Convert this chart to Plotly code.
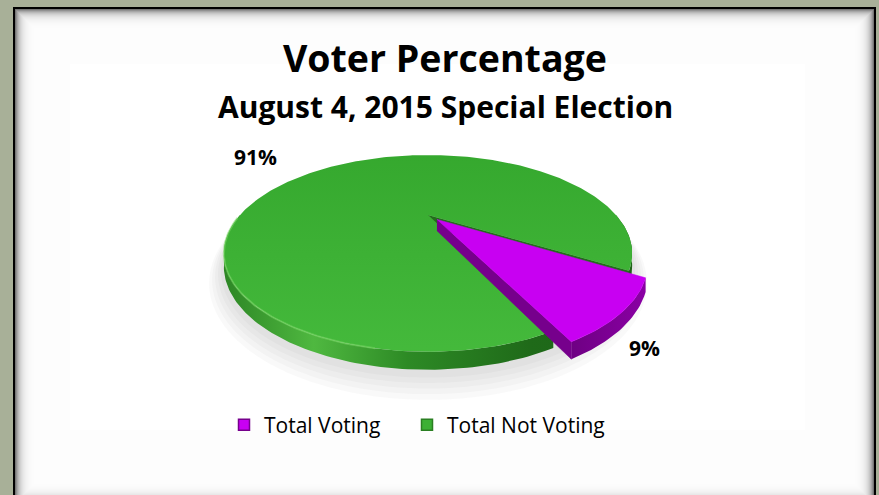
import numpy as np
import plotly.graph_objects as go

# ---- chart data -------------------------------------------------------
categories = ["Total Voting", "Total Not Voting"]
votes_pct = [9, 91]
top_colors = ["#c800f2", "#3cb034"]
side_colors = ["#76008c", "#2a7f22"]
title_text = "Voter Percentage"
subtitle_text = "August 4, 2015 Special Election"

W, H = 879, 495
FONT = "Open Sans"

# ---- 3-D pie geometry (pixel space of the page) -----------------------
CX, CY = 428.0, 215.0      # projected centre of the disc
SX, SY = 188.0, 83.4       # radii before perspective
PERSP = 0.39               # perspective strength (front looks larger)
DEPTH = 11.0               # disc thickness
START_DEG = 32.0           # first slice start, clockwise from 3 o'clock
EXPLODE = [0.07, 0.0]


def project(X, Y, drop=0.0):
    d = 1.0 - PERSP * np.asarray(Y)
    return CX + SX * np.asarray(X) / d, CY + (SY * np.asarray(Y) + drop) / d


def arc_pts(a0, a1, off=(0.0, 0.0), drop=0.0, r=1.0):
    n = max(int(abs(a1 - a0) / 1.0), 6)
    t = np.radians(np.linspace(a0, a1, n))
    return project(r * np.cos(t) + off[0], r * np.sin(t) + off[1], drop)


total = float(sum(votes_pct))
spans = [v / total * 360.0 for v in votes_pct]
starts = [START_DEG + sum(spans[:i]) for i in range(len(spans))]

fig = go.Figure()

# soft drop shadow under the disc
for k in range(5):
    sx, sy = arc_pts(0, 360, r=1.0 + 0.012 * (k + 1), drop=DEPTH + 3 + k * 1.5)
    fig.add_trace(go.Scatter(x=sx, y=sy, fill="toself", mode="none",
                             fillcolor="rgba(90,90,90,0.04)",
                             showlegend=False, hoverinfo="skip"))


def add_poly(x, y, color=None, grad=None):
    kw = dict(x=np.asarray(x), y=np.asarray(y), fill="toself", mode="lines",
              line=dict(width=0.5, color=color or "rgba(0,0,0,0)"),
              showlegend=False, hoverinfo="skip")
    if grad is not None:
        kw["fillgradient"] = grad
        kw["line"] = dict(width=0)
    else:
        kw["fillcolor"] = color
    fig.add_trace(go.Scatter(**kw))


def wall(a0, a1, off, grad):
    # only the front half (0..180 deg) of the rim is visible
    pieces = []
    for lo, hi in ((0, 180), (360, 540)):
        s, e = max(a0, lo), min(a1, hi)
        if e > s:
            pieces.append((s, e))
    for s, e in pieces:
        tx, ty = arc_pts(s, e, off)
        bx, by = arc_pts(s, e, off, drop=DEPTH)
        add_poly(np.r_[tx, bx[::-1]], np.r_[ty, by[::-1]], grad=grad)


def radial_face(angle, off, color):
    t = np.radians(angle)
    X = np.array([0.0, np.cos(t), np.cos(t), 0.0]) + off[0]
    Y = np.array([0.0, np.sin(t), np.sin(t), 0.0]) + off[1]
    drops = np.array([0.0, 0.0, DEPTH, DEPTH])
    d = 1.0 - PERSP * Y
    add_poly(CX + SX * X / d, CY + (SY * Y + drops) / d, color=color)


green_wall = dict(type="horizontal", start=224, stop=632,
                  colorscale=[[0, "#2d8625"], [0.22, "#4fb840"], [0.45, "#2d8a25"],
                              [0.75, "#1f6a19"], [1, "#1d6317"]])
purple_wall = dict(type="horizontal", start=560, stop=645,
                   colorscale=[[0, "#6a007e"], [1, "#8a00a4"]])
green_top = dict(type="vertical", start=150, stop=360,
                 colorscale=[[0, "#35a82e"], [1, "#45ba3c"]])

order = [1, 0]  # draw the large slice first, exploded slice on top
for i in order:
    a0, a1 = starts[i], starts[i] + spans[i]
    mid = np.radians((a0 + a1) / 2)
    off = (EXPLODE[i] * np.cos(mid), EXPLODE[i] * np.sin(mid))
    if i == 1:
        radial_face(a1, off, "#236e1c")
        wall(a0, a1, off, green_wall)
    else:
        wall(a0, a1, off, purple_wall)
        radial_face(a1, off, side_colors[0])
    tx, ty = arc_pts(a0, a1, off)
    cx0, cy0 = project(off[0], off[1])
    px = np.r_[cx0, tx, cx0]
    py = np.r_[cy0, ty, cy0]
    if i == 1:
        add_poly(px, py, grad=green_top)
        # light bevel along the front-left rim
        rx, ry = arc_pts(100, 178, off)
        fig.add_trace(go.Scatter(x=rx, y=ry, mode="lines",
                                 line=dict(color="rgba(120,215,100,0.55)", width=2),
                                 showlegend=False, hoverinfo="skip"))
    else:
        add_poly(px, py, color=top_colors[0])

# legend entries, one legend box per category
for i, name in enumerate(categories):
    fig.add_trace(go.Scatter(
        x=[None], y=[None], mode="markers", name=name,
        legend="legend" if i == 0 else "legend2",
        marker=dict(symbol="square", size=11, color=top_colors[i],
                    line=dict(color=side_colors[i], width=1.5))))

# percentage labels
pct_text = [f"{round(v / total * 100)}%" for v in votes_pct]
label_pos = [(644, 348), (255, 157)]
annotations = []
for i, txt in enumerate(pct_text):
    annotations.append(dict(x=label_pos[i][0], y=label_pos[i][1], text=f"<b>{txt}</b>",
                            showarrow=False, xref="x", yref="y",
                            font=dict(family=FONT, size=21, color="black")))
annotations.append(dict(x=445, y=57, text=f"<b>{title_text}</b>", showarrow=False,
                        xref="x", yref="y", font=dict(family=FONT, size=37.5, color="black")))
annotations.append(dict(x=445, y=106, text=f"<b>{subtitle_text}</b>", showarrow=False,
                        xref="x", yref="y", font=dict(family=FONT, size=30, color="black")))

# framed panel with a soft bevel
shapes = [dict(type="rect", xref="x", yref="y", x0=13, y0=7, x1=876, y1=505,
               fillcolor="#000000", line=dict(width=0), layer="below")]
for k in range(30):
    g = int(round(255 - (255 - 118) * np.exp(-k / 4.5)))
    g = min(g, 253)
    shapes.append(dict(type="rect", xref="x", yref="y", x0=15 + k, y0=9 + k,
                       x1=874 - k, y1=503 - k, fillcolor=f"rgb({g},{g},{g})",
                       line=dict(width=0), layer="below"))
shapes.append(dict(type="rect", xref="x", yref="y", x0=70, y0=64, x1=805, y1=430,
                   fillcolor="#ffffff", line=dict(width=0), layer="below"))

legend_common = dict(orientation="h", yanchor="middle", xanchor="left",
                     bgcolor="rgba(0,0,0,0)", borderwidth=0,
                     font=dict(family=FONT, size=21, color="black"))

fig.update_layout(
    width=W, height=H, margin=dict(l=0, r=0, t=0, b=0),
    paper_bgcolor="#a8b098", plot_bgcolor="rgba(0,0,0,0)",
    xaxis=dict(range=[0, W], visible=False, fixedrange=True),
    yaxis=dict(range=[H, 0], visible=False, fixedrange=True),
    shapes=shapes, annotations=annotations, showlegend=True,
    legend=dict(x=(244 - 20) / W, y=1 - 425 / H, **legend_common),
    legend2=dict(x=(427 - 20) / W, y=1 - 425 / H, **legend_common),
)

fig.write_html("out.html")
